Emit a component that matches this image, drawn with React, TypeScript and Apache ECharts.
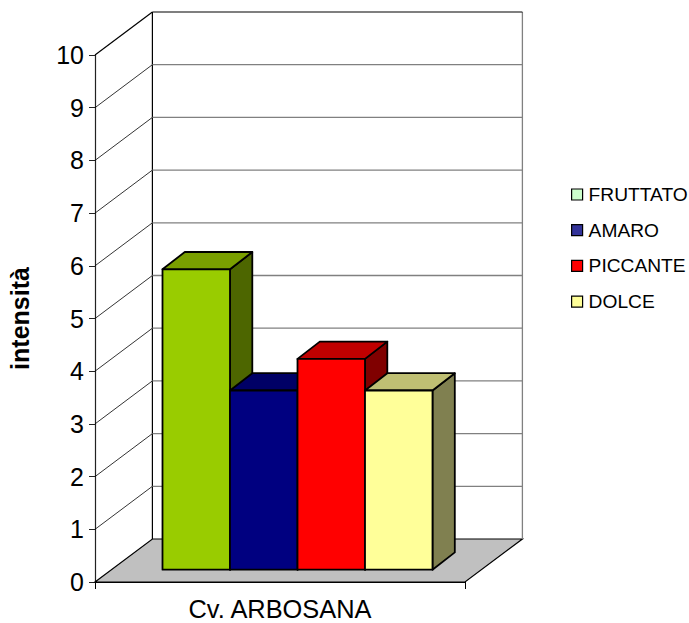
import React, { useEffect, useRef } from "react";
import * as echarts from "echarts";

const categories = ["Cv. ARBOSANA"];
const yTicks = [0, 1, 2, 3, 4, 5, 6, 7, 8, 9, 10];
const seriesNames = ["FRUTTATO", "AMARO", "PICCANTE", "DOLCE"];
const seriesValues = [5.7, 3.4, 4.0, 3.4];
const legendColors = ["#CCFFCC", "#333399", "#FF0000", "#FFFF99"];
const frontColors = ["#99CC00", "#000080", "#FF0000", "#FFFF99"];
const topColors = ["#7A9F00", "#000066", "#C00000", "#BFBF73"];
const sideColors = ["#4D6600", "#000040", "#800000", "#808050"];

const WALL_DX = 57.4;
const WALL_DY = 43;
const BAR_DX = 22.3;
const BAR_DY = 17.3;
const FRONT_OFFSET_X = 17.5;
const FRONT_OFFSET_Y = 12.3;
const GROUP_RATIO = 270 / 370;

function renderWall(_params: any, api: any) {
  const t = api.value(1);
  const [cx, y] = api.coord([0, t]);
  const w = api.size([1, 0])[0];
  const x0 = cx - w / 2;
  const bx = x0 + WALL_DX;
  const by = y - WALL_DY;
  const children: any[] = [];
  if (t === 0) {
    children.push({
      type: "polygon",
      shape: { points: [[x0, y], [bx, by], [bx + w, by], [x0 + w, y]] },
      style: { fill: "#C0C0C0", stroke: "#000", lineWidth: 1.2 },
    });
    const top = api.coord([0, 10])[1] - WALL_DY;
    children.push({
      type: "line",
      shape: { x1: bx + w, y1: top, x2: bx + w, y2: by },
      style: { stroke: "#808080", lineWidth: 1.3 },
    });
    children.push({
      type: "line",
      shape: { x1: bx, y1: top, x2: bx, y2: by },
      style: { stroke: "#000", lineWidth: 1.2 },
    });
  } else {
    children.push({
      type: "line",
      shape: { x1: x0, y1: y, x2: bx, y2: by },
      style: { stroke: "#000", lineWidth: t === 10 ? 1.2 : 0.8 },
    });
    children.push({
      type: "line",
      shape: { x1: bx, y1: by, x2: bx + w, y2: by },
      style: { stroke: t === 10 ? "#000" : "#808080", lineWidth: t === 10 ? 1.2 : 1.3 },
    });
  }
  return { type: "group", children };
}

function makeRenderBar(i: number) {
  return (_params: any, api: any) => {
    const [cx, yTop0] = api.coord([0, api.value(1)]);
    const yBase0 = api.coord([0, 0])[1];
    const groupW = api.size([1, 0])[0] * GROUP_RATIO;
    const barW = groupW / seriesNames.length;
    const x1 = cx - groupW / 2 + FRONT_OFFSET_X + i * barW;
    const x2 = x1 + barW;
    const yTop = yTop0 - FRONT_OFFSET_Y;
    const yBase = yBase0 - FRONT_OFFSET_Y;
    const border = { stroke: "#000", lineWidth: 1.8, lineJoin: "round" };
    return {
      type: "group",
      children: [
        {
          type: "polygon",
          shape: { points: [[x2, yTop], [x2 + BAR_DX, yTop - BAR_DY], [x2 + BAR_DX, yBase - BAR_DY], [x2, yBase]] },
          style: { fill: sideColors[i], ...border },
        },
        {
          type: "polygon",
          shape: { points: [[x1, yTop], [x1 + BAR_DX, yTop - BAR_DY], [x2 + BAR_DX, yTop - BAR_DY], [x2, yTop]] },
          style: { fill: topColors[i], ...border },
        },
        {
          type: "polygon",
          shape: { points: [[x1, yTop], [x2, yTop], [x2, yBase], [x1, yBase]] },
          style: { fill: frontColors[i], ...border },
        },
      ],
    };
  };
}

export default function App() {
  const ref = useRef<HTMLDivElement>(null);
  useEffect(() => {
    const chart = echarts.init(ref.current!, undefined, { renderer: "svg" });
    const fontFamily = "'Liberation Sans', Arial, sans-serif";
    chart.setOption({
      animation: false,
      backgroundColor: "#fff",
      textStyle: { fontFamily },
      legend: {
        data: seriesNames,
        orient: "vertical",
        left: 571,
        top: 185,
        icon: "rect",
        itemWidth: 11,
        itemHeight: 11,
        itemGap: 16.7,
        padding: 0,
        textStyle: { fontSize: 19.2, color: "#000", fontFamily, padding: [0, 0, 0, 1] },
        itemStyle: { borderColor: "#000", borderWidth: 1.2 },
        selectedMode: false,
      },
      grid: { left: 95, top: 55, width: 370, height: 527, outerBoundsMode: "none" },
      xAxis: {
        type: "category",
        data: categories,
        axisLine: { show: true, lineStyle: { color: "#000", width: 1.2 } },
        axisTick: { show: true, length: 7, alignWithLabel: false, lineStyle: { color: "#000" } },
        axisLabel: { fontSize: 25.4, color: "#000", margin: 14, fontFamily },
        splitLine: { show: false },
      },
      yAxis: {
        type: "value",
        min: 0,
        max: 10,
        interval: 1,
        name: "intensità",
        nameLocation: "middle",
        nameGap: 63,
        nameTextStyle: { fontSize: 25, fontWeight: "bold", color: "#000", fontFamily },
        axisLine: { show: true, lineStyle: { color: "#222", width: 1.2 } },
        axisTick: { show: true, length: 6, lineStyle: { color: "#222" } },
        axisLabel: { fontSize: 25, color: "#000", margin: 11, fontFamily },
        splitLine: { show: false },
      },
      series: [
        {
          type: "custom",
          name: "walls",
          silent: true,
          z: 1,
          renderItem: renderWall,
          encode: { x: 0, y: 1 },
          data: yTicks.map((t) => [0, t]),
        },
        ...seriesNames.map((name, i) => ({
          type: "custom",
          name,
          z: 3,
          itemStyle: { color: legendColors[i] },
          renderItem: makeRenderBar(i),
          encode: { x: 0, y: 1 },
          data: [[0, seriesValues[i]]],
        })),
      ],
    });
    return () => chart.dispose();
  }, []);
  return <div ref={ref} style={{ position: "fixed", left: 0, top: 0, width: 689, height: 623 }} />;
}
